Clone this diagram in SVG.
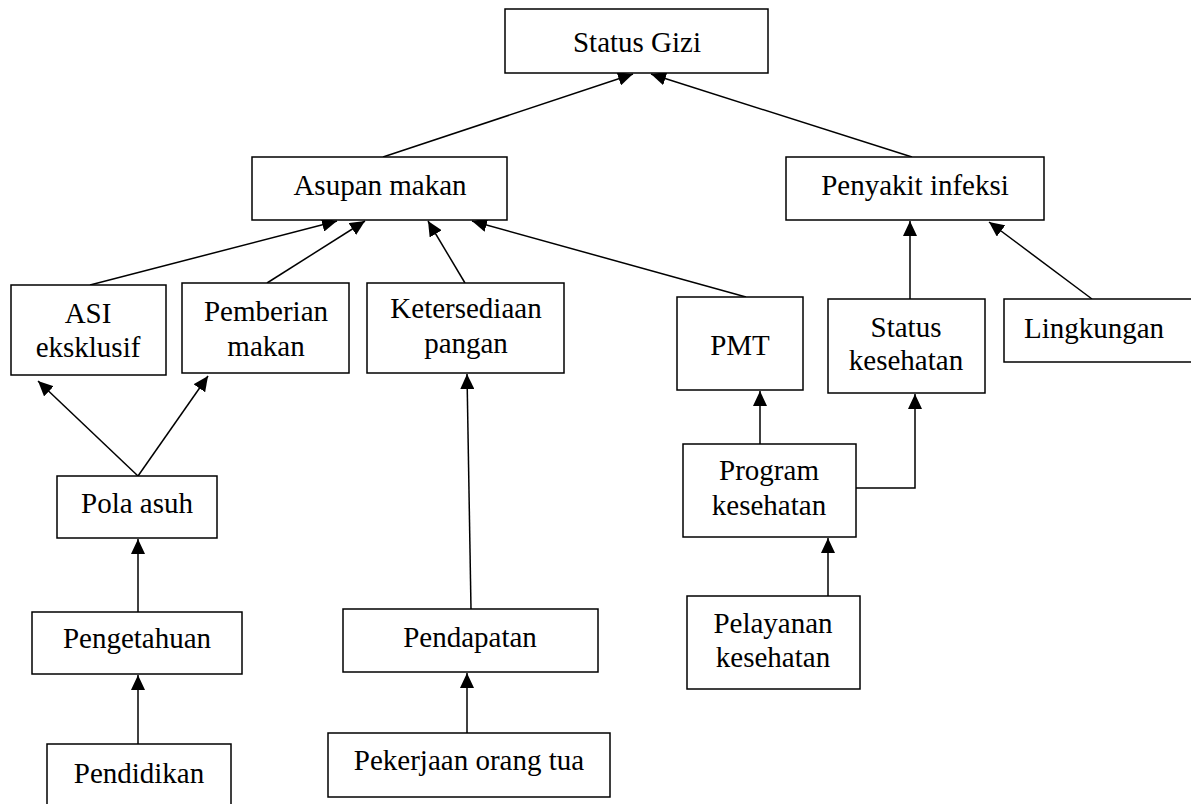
<svg xmlns="http://www.w3.org/2000/svg" width="1191" height="804" viewBox="0 0 1191 804">
<style>
.box{fill:#fff;stroke:#000;stroke-width:1.5}
.t{font-family:'Liberation Serif','Times New Roman',serif;font-size:29px;fill:#000;text-anchor:middle}
.c{fill:none;stroke:#000;stroke-width:1.5}
</style>
<defs>
<marker id="ah" markerUnits="userSpaceOnUse" markerWidth="16" markerHeight="14" refX="15" refY="7" orient="auto">
<path d="M0,0 L15,7 L0,14 z" fill="#000"/>
</marker>
</defs>
<rect width="1191" height="804" fill="#fff"/>
<g id="connectors">
<line class="c" x1="383" y1="157" x2="633" y2="74" marker-end="url(#ah)"/>
<line class="c" x1="912" y1="157" x2="651" y2="74" marker-end="url(#ah)"/>
<line class="c" x1="90" y1="285" x2="337" y2="221" marker-end="url(#ah)"/>
<line class="c" x1="267" y1="283" x2="365" y2="221" marker-end="url(#ah)"/>
<line class="c" x1="465" y1="283" x2="428" y2="221" marker-end="url(#ah)"/>
<line class="c" x1="746" y1="297" x2="472" y2="221" marker-end="url(#ah)"/>
<line class="c" x1="910" y1="299" x2="910" y2="221" marker-end="url(#ah)"/>
<line class="c" x1="1092" y1="299" x2="989" y2="222" marker-end="url(#ah)"/>
<line class="c" x1="138" y1="476" x2="38" y2="381" marker-end="url(#ah)"/>
<line class="c" x1="138" y1="476" x2="208" y2="376" marker-end="url(#ah)"/>
<line class="c" x1="138" y1="612" x2="138" y2="539" marker-end="url(#ah)"/>
<line class="c" x1="138" y1="744" x2="138" y2="675" marker-end="url(#ah)"/>
<line class="c" x1="471" y1="609" x2="467" y2="374" marker-end="url(#ah)"/>
<line class="c" x1="467" y1="733" x2="467" y2="673" marker-end="url(#ah)"/>
<line class="c" x1="760" y1="444" x2="760" y2="391" marker-end="url(#ah)"/>
<polyline class="c" points="856,488 915,488 915,394" marker-end="url(#ah)"/>
<line class="c" x1="828" y1="596" x2="828" y2="538" marker-end="url(#ah)"/>
</g>
<g id="status-gizi"><rect class="box" x="505" y="9" width="263" height="64"/><text class="t" x="637" y="52">Status Gizi</text></g>
<g id="asupan-makan"><rect class="box" x="252" y="157" width="255" height="63"/><text class="t" x="380" y="195">Asupan makan</text></g>
<g id="penyakit-infeksi"><rect class="box" x="786" y="157" width="258" height="63"/><text class="t" x="915" y="195">Penyakit infeksi</text></g>
<g id="asi-eksklusif"><rect class="box" x="11" y="285" width="155" height="90"/><text class="t" x="88" y="323">ASI</text><text class="t" x="88" y="357">eksklusif</text></g>
<g id="pemberian-makan"><rect class="box" x="182" y="283" width="167" height="90"/><text class="t" x="266" y="321">Pemberian</text><text class="t" x="266" y="356">makan</text></g>
<g id="ketersediaan-pangan"><rect class="box" x="367" y="283" width="197" height="90"/><text class="t" x="466" y="318">Ketersediaan</text><text class="t" x="466" y="353">pangan</text></g>
<g id="pmt"><rect class="box" x="677" y="297" width="126" height="93"/><text class="t" x="740" y="355">PMT</text></g>
<g id="status-kesehatan"><rect class="box" x="828" y="299" width="157" height="94"/><text class="t" x="906" y="337">Status</text><text class="t" x="906" y="370">kesehatan</text></g>
<g id="lingkungan"><rect class="box" x="1004" y="299" width="200" height="63"/><text class="t" x="1094" y="338">Lingkungan</text></g>
<g id="pola-asuh"><rect class="box" x="57" y="476" width="160" height="62"/><text class="t" x="137" y="513">Pola asuh</text></g>
<g id="program-kesehatan"><rect class="box" x="683" y="444" width="173" height="93"/><text class="t" x="769" y="480">Program</text><text class="t" x="769" y="515">kesehatan</text></g>
<g id="pengetahuan"><rect class="box" x="32" y="612" width="210" height="62"/><text class="t" x="137" y="648">Pengetahuan</text></g>
<g id="pendapatan"><rect class="box" x="343" y="609" width="255" height="63"/><text class="t" x="470" y="647">Pendapatan</text></g>
<g id="pelayanan-kesehatan"><rect class="box" x="687" y="596" width="173" height="93"/><text class="t" x="773" y="633">Pelayanan</text><text class="t" x="773" y="667">kesehatan</text></g>
<g id="pendidikan"><rect class="box" x="47" y="744" width="184" height="70"/><text class="t" x="139" y="783">Pendidikan</text></g>
<g id="pekerjaan-orang-tua"><rect class="box" x="328" y="733" width="282" height="64"/><text class="t" x="469" y="770">Pekerjaan orang tua</text></g>
</svg>
